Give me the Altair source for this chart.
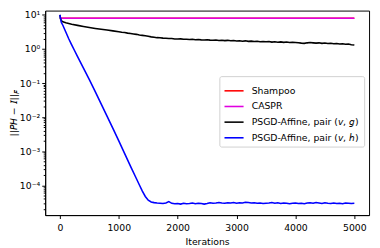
import altair as alt
import pandas as pd

# ---------------- data ----------------
names = ["Shampoo", "CASPR", "PSGD-Affine, pair (𝘷, 𝘨)", "PSGD-Affine, pair (𝘷, 𝘩)"]
colors = ["#ff0000", "#e000e0", "#000000", "#0000ff"]

shampoo_iter = [0, 5000]
shampoo_val = [8.05, 8.05]

caspr_iter = [0, 5000]
caspr_val = [8.0, 8.0]

vg_iter = [0, 10, 25, 50, 100, 200, 300, 400, 500, 600, 700, 800, 900,
           1000, 1050, 1100, 1150, 1200, 1250, 1300, 1350, 1400, 1450, 1500,
           1550, 1600, 1650, 1700, 1750, 1800, 1850, 1900, 1950, 2000,
           2050, 2100, 2150, 2200, 2250, 2300, 2350, 2400, 2450, 2500,
           2550, 2600, 2650, 2700, 2750, 2800, 2850, 2900, 2950, 3000,
           3050, 3100, 3150, 3200, 3250, 3300, 3350, 3400, 3450, 3500,
           3550, 3600, 3650, 3700, 3750, 3800, 3850, 3900, 3950, 4000,
           4050, 4100, 4150, 4200, 4250, 4300, 4350, 4400, 4450, 4500,
           4550, 4600, 4650, 4700, 4750, 4800, 4850, 4900, 4950, 5000]
vg_val = [10.0, 7.8, 6.8, 6.3, 5.9, 5.35, 4.95, 4.6, 4.3, 4.03, 3.8, 3.6, 3.42,
          3.22, 3.12, 3.04, 2.93, 2.86, 2.78, 2.70, 2.60, 2.52, 2.45, 2.36,
          2.28, 2.22, 2.16, 2.15, 2.09, 2.07, 2.03, 2.04, 1.98, 1.96,
          1.99, 1.93, 1.95, 1.90, 1.93, 1.87, 1.90, 1.86, 1.84, 1.88,
          1.83, 1.81, 1.85, 1.79, 1.82, 1.77, 1.80, 1.75, 1.78, 1.73,
          1.76, 1.70, 1.74, 1.68, 1.71, 1.67, 1.70, 1.64, 1.67, 1.63,
          1.66, 1.60, 1.63, 1.59, 1.62, 1.57, 1.60, 1.55, 1.58, 1.56,
          1.53, 1.49, 1.47, 1.52, 1.55, 1.52, 1.49, 1.52, 1.47, 1.50,
          1.45, 1.48, 1.43, 1.46, 1.41, 1.43, 1.38, 1.40, 1.34, 1.31]

vh_iter = [0, 10, 25, 50, 100, 150, 200, 250, 300, 400, 500, 600, 700, 800,
           900, 1000, 1100, 1200, 1300, 1350, 1400, 1450, 1500, 1550, 1600,
           1650, 1700, 1750, 1800, 1850, 1900, 1950, 2000, 2050, 2100,
           2150, 2200, 2250, 2300, 2350, 2400, 2450, 2500, 2550, 2600,
           2650, 2700, 2750, 2800, 2850, 2900, 2950, 3000, 3050, 3100,
           3150, 3200, 3250, 3300, 3350, 3400, 3450, 3500, 3550, 3600,
           3650, 3700, 3750, 3800, 3850, 3900, 3950, 4000, 4050, 4100,
           4150, 4200, 4250, 4300, 4350, 4400, 4450, 4500, 4550, 4600,
           4650, 4700, 4750, 4800, 4850, 4900, 4950, 5000]
vh_val = [10.0, 7.9, 6.0, 5.0, 3.16, 2.0, 1.32, 0.89, 0.60, 0.275, 0.126,
          0.056, 0.0245, 0.0107, 0.00468, 0.0020, 0.00085, 0.00036, 0.000155,
          0.000102, 0.0000676, 0.0000468, 0.0000363, 0.0000324, 0.0000309,
          3.0e-5, 2.95e-5, 2.9e-5, 3.0e-5, 3.3e-5, 2.95e-5, 2.85e-5, 2.9e-5, 2.8e-5, 2.95e-5,
          2.85e-5, 2.9e-5, 3.0e-5, 2.85e-5, 2.95e-5, 2.9e-5, 2.8e-5, 2.9e-5, 3.05e-5, 2.95e-5,
          3.0e-5, 3.1e-5, 3.0e-5, 2.95e-5, 3.05e-5, 3.0e-5, 3.1e-5, 2.95e-5, 3.05e-5, 3.0e-5,
          3.15e-5, 3.1e-5, 3.0e-5, 3.05e-5, 2.95e-5, 3.0e-5, 2.9e-5, 2.95e-5, 3.0e-5, 3.1e-5,
          2.95e-5, 3.05e-5, 2.9e-5, 3.0e-5, 2.95e-5, 2.85e-5, 2.95e-5, 3.0e-5, 2.9e-5, 2.95e-5,
          2.85e-5, 3.0e-5, 3.05e-5, 2.95e-5, 3.1e-5, 3.0e-5, 2.9e-5, 3.05e-5, 2.95e-5, 2.9e-5,
          3.0e-5, 2.9e-5, 2.95e-5, 2.85e-5, 3.0e-5, 2.95e-5, 2.9e-5, 2.95e-5]

x_ticks = [0, 1000, 2000, 3000, 4000, 5000]
y_major = [1e-4, 1e-3, 1e-2, 1e-1, 1, 10]
y_minor = [m * 10.0 ** e for e in range(-5, 2) for m in range(2, 10)]
y_minor = [v for v in y_minor if 1.33e-5 <= v <= 13.4]

y_title_main = "||𝘗𝘏 − 𝘐||"
y_title_sub = "𝘍"
x_title = "Iterations"

# ---------------- build table ----------------
rows = []
for name, its, vals in [(names[0], shampoo_iter, shampoo_val),
                        (names[1], caspr_iter, caspr_val),
                        (names[2], vg_iter, vg_val),
                        (names[3], vh_iter, vh_val)]:
    for i, v in zip(its, vals):
        rows.append({"series": name, "iter": i, "val": v})
df = pd.DataFrame(rows)

FONT = "DejaVu Sans"
xscale = alt.Scale(domain=[-250, 5250], nice=False, zero=False)
yscale = alt.Scale(type="log", domain=[1.33e-5, 13.46], nice=False)
cscale = alt.Scale(domain=names, range=colors)

label_expr = ("datum.value >= 5 ? '10¹' : datum.value >= 0.5 ? '10⁰' : "
              "datum.value >= 0.05 ? '10⁻¹' : datum.value >= 0.005 ? '10⁻²' : "
              "datum.value >= 0.0005 ? '10⁻³' : '10⁻⁴'")

xaxis = alt.Axis(values=x_ticks, title=x_title, grid=False, tickSize=3.5,
                 labelPadding=4, titlePadding=5, labelFontSize=9.5, titleFontSize=9.5,
                 titleFontWeight="normal", format="d")
yaxis_major = alt.Axis(values=y_major, title=None, grid=False, tickSize=3.5,
                       labelPadding=2, labelFontSize=9.5, labelExpr=label_expr,
                       orient="left")
yaxis_minor = alt.Axis(values=y_minor, title=None, grid=False, tickSize=2,
                       labels=False, domain=False, orient="left")

legend = alt.Legend(title=None, orient="none", legendX=178, legendY=67,
                    symbolType="stroke", symbolSize=380, symbolStrokeWidth=1.6,
                    labelFontSize=9.5, labelFont=FONT, labelLimit=300, labelOffset=7,
                    padding=4, rowPadding=0, strokeColor="#d0d0d0",
                    fillColor="white", cornerRadius=2, labelColor="black")


def layer(name, yaxis, with_legend):
    return alt.Chart(df).transform_filter(alt.datum.series == name).mark_line(
        strokeWidth=1.6, clip=True).encode(
        x=alt.X("iter:Q", scale=xscale, axis=xaxis),
        y=alt.Y("val:Q", scale=yscale, axis=yaxis),
        color=alt.Color("series:N", scale=cscale,
                        legend=legend if with_legend else None),
    )


l1 = layer(names[0], yaxis_minor, True)
l2 = layer(names[1], yaxis_major, True)
l3 = layer(names[2], None, True)
l4 = layer(names[3], None, True)

tdf = pd.DataFrame({"t": [y_title_main], "s": [y_title_sub]})
t_main = alt.Chart(tdf).mark_text(angle=270, align="center", baseline="middle",
                                  fontSize=9.5, font=FONT, color="black").encode(
    x=alt.value(-32), y=alt.value(107), text="t:N")
t_sub = alt.Chart(tdf).mark_text(angle=270, align="center", baseline="middle",
                                 fontSize=7, font=FONT, color="black").encode(
    x=alt.value(-29), y=alt.value(83), text="s:N")

chart = alt.layer(l1, l2, l3, l4, t_main, t_sub).resolve_axis(
    y="independent").properties(
    width=331, height=209,
    autosize=alt.AutoSizeParams(type="none"),
    padding={"left": 38, "top": 0, "right": 3, "bottom": 32},
).configure(font=FONT).configure_view(stroke="black", strokeWidth=1).configure_axis(
    labelFont=FONT, titleFont=FONT, labelColor="black", titleColor="black",
    tickColor="black", domainColor="black", domainWidth=1, tickWidth=1)

chart.save("out.html", embed_options={"renderer": "svg", "actions": False})
